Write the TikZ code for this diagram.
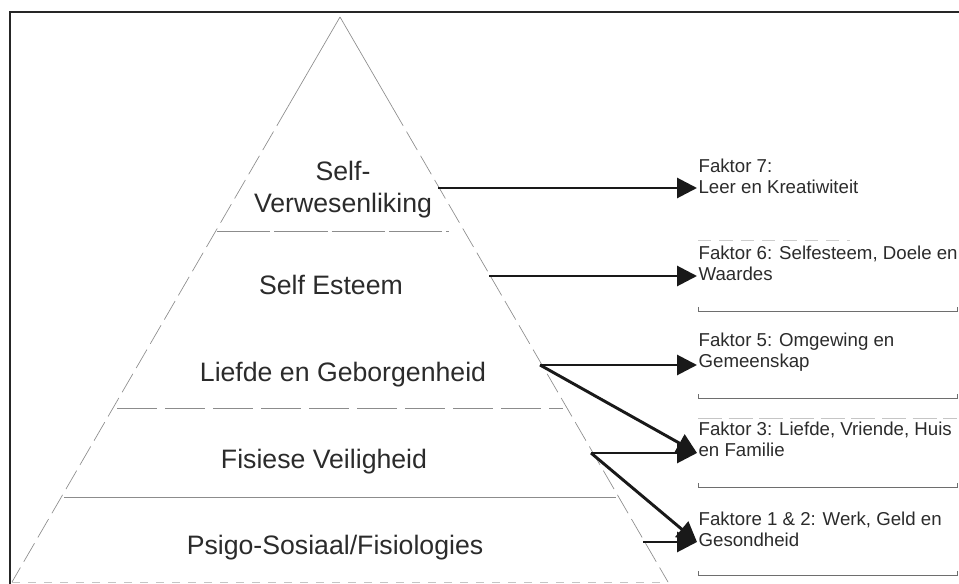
\documentclass[tikz,border=0pt]{standalone}
\usepackage{fontspec}
\setmainfont{Liberation Sans}
\usetikzlibrary{arrows.meta, calc}
\definecolor{inkgray}{HTML}{2B2B2B}
\definecolor{pyrgray}{HTML}{8C8C8C}
\definecolor{boxgray}{HTML}{6E6E6E}
\tikzstyle{level} = [text=inkgray, font=\fontsize{20}{24}\selectfont, align=center, inner sep=0pt]
\tikzstyle{faktor} = [text=inkgray, font=\fontsize{14}{15.75}\selectfont, align=left, anchor=west, inner sep=1pt]
\tikzstyle{arrow} = [line width=2.2pt, draw=black!90, -{Triangle[length=15pt,width=15pt]}]
\tikzstyle{pyramid} = [draw=pyrgray, line width=0.5pt]
\tikzstyle{bracket} = [draw=boxgray, line width=0.6pt]
\tikzstyle{frame} = [draw=black!85, line width=1.5pt]

\begin{document}
\begin{tikzpicture}[x=0.75pt, y=-0.75pt]
    \useasboundingbox (0,0) rectangle (959,584);
    \draw [frame] (10,584) -- (10,12) -- (959,12);
    % pyramid
    \coordinate (top) at (340,17);
    \coordinate (bl) at (12,582);
    \coordinate (br) at (668,582);
    \draw [pyramid] (top) -- ($(top)!0.16!(bl)$);
    \draw [pyramid] (top) -- ($(top)!0.16!(br)$);
    \draw [pyramid, dash pattern=on 16pt off 5pt] ($(top)!0.16!(bl)$) -- (bl);
    \draw [pyramid, dash pattern=on 16pt off 5pt] ($(top)!0.16!(br)$) -- (br);
    \draw [pyramid, draw=pyrgray!50, dash pattern=on 6pt off 6pt] (bl) -- (br);
    \draw [pyramid, dash pattern=on 40pt off 3pt] (217,231) -- (449,231);
    \draw [pyramid, dash pattern=on 30pt off 6pt] (117,408) -- (563,408);
    \draw [pyramid] (64,497) -- (616,497);
    \node (l7) [level] at (343,190) {Self-\\Verwesenliking};
    \node (l6) [level] at (331,285) {Self Esteem};
    \node (l5) [level] at (343,375) {Liefde en Geborgenheid};
    \node (l3) [level] at (324,462) {Fisiese Veiligheid};
    \node (l12) [level] at (335,548) {Psigo-Sosiaal/Fisiologies};
    % factors
    \node (f7) [faktor] at (697,176) {Faktor 7:\\Leer en Kreatiwiteit};
    \node (f6) [faktor] at (697,263) {Faktor 6: Selfesteem, Doele en\\Waardes};
    \node (f5) [faktor] at (697,352) {Faktor 5: Omgewing en\\Gemeenskap};
    \node (f3) [faktor] at (697,439) {Faktor 3: Liefde, Vriende, Huis\\en Familie};
    \node (f12) [faktor] at (697,529) {Faktore 1 \& 2: Werk, Geld en\\Gesondheid};
    \foreach \y in {311,398,487,575}
      \draw [bracket] (698,\y-4) -- (698,\y) -- (957,\y) -- (957,\y-4);
    \draw [bracket, draw=boxgray!35, dash pattern=on 10pt off 6pt] (698,240) -- (850,240);
    \draw [bracket, draw=boxgray!40, dash pattern=on 18pt off 5pt] (698,418) -- (957,418);
    % arrows
    \coordinate (s7) at (438,188);
    \coordinate (s6) at (489,276);
    \coordinate (s5) at (540,365);
    \coordinate (s3) at (591,453);
    \coordinate (s12) at (643,542);
    \draw [arrow] (s7) -- (f7.west |- s7);
    \draw [arrow] (s6) -- (f6.west |- s6);
    \draw [arrow] (s5) -- (f5.west |- s5);
    \draw [arrow] (s5) -- (f3.west |- s3);
    \draw [arrow] (s3) -- (f3.west |- s3);
    \draw [arrow] (s3) -- (f12.west |- s12);
    \draw [arrow] (s12) -- (f12.west |- s12);
\end{tikzpicture}
\end{document}
